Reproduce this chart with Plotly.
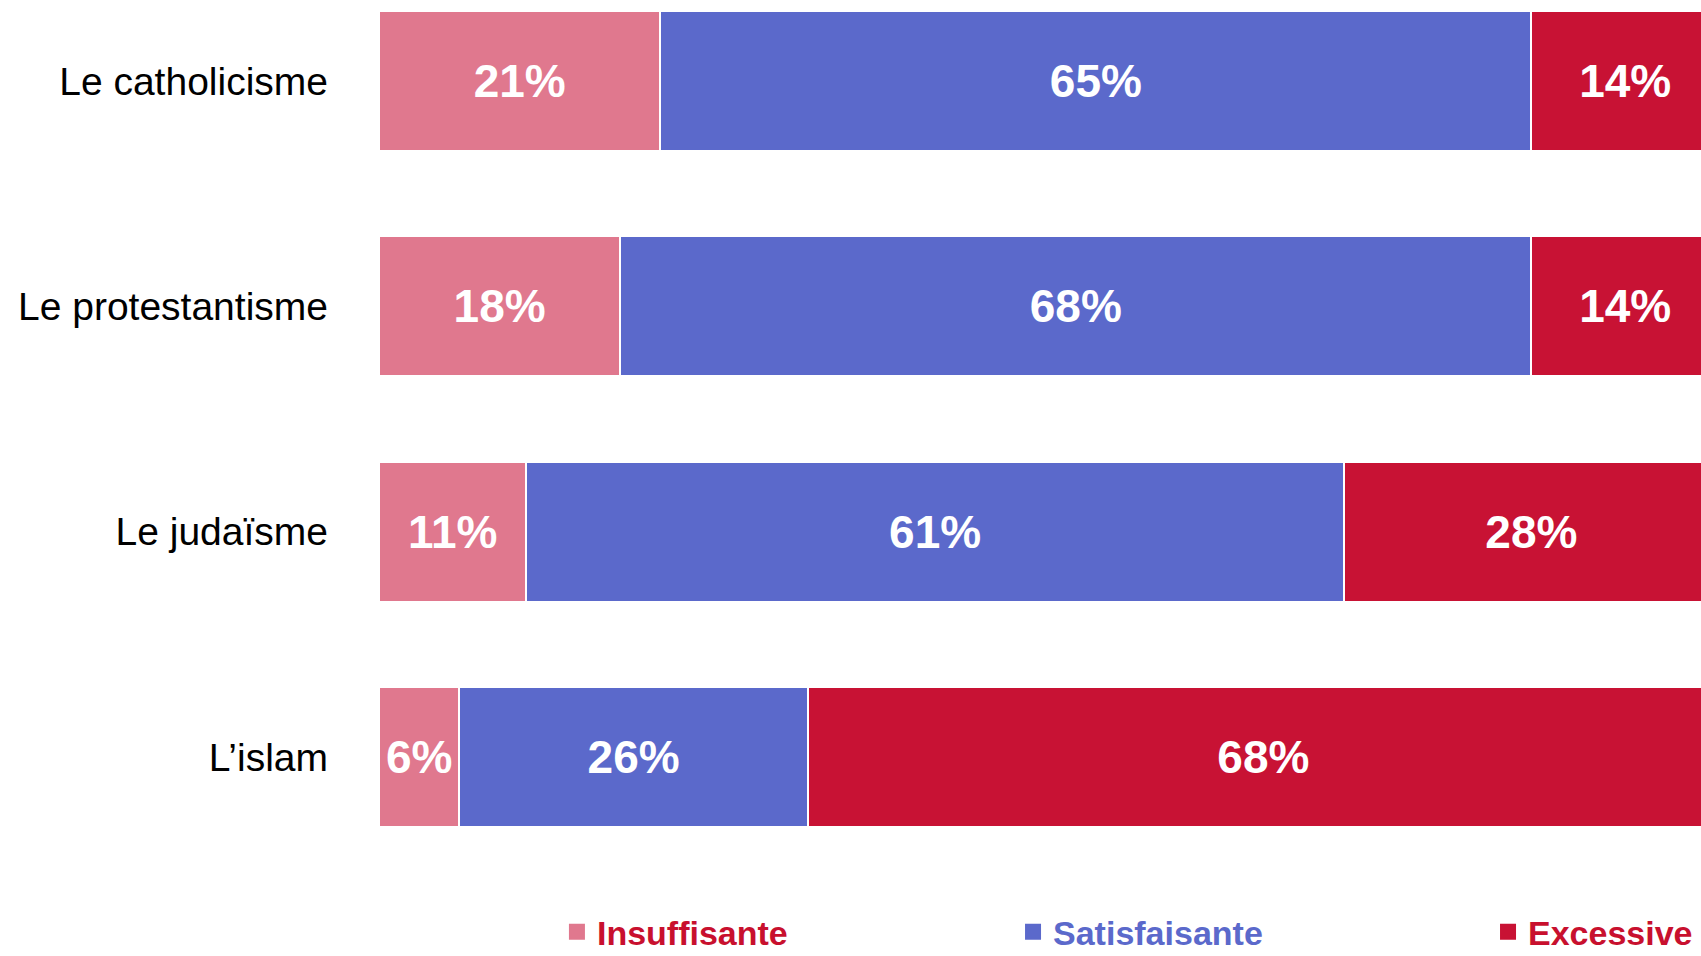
import plotly.graph_objects as go

categories = ["Le catholicisme", "Le protestantisme", "Le judaïsme", "L’islam"]
insuffisante = [21, 18, 11, 6]
satisfaisante = [65, 68, 61, 26]
excessive = [14, 14, 28, 68]

series = [
    ("Insuffisante", insuffisante, "#E0788E", "#C8102E", "legend"),
    ("Satisfaisante", satisfaisante, "#5B69CB", "#5B69CB", "legend2"),
    ("Excessive", excessive, "#C81234", "#C8102E", "legend3"),
]

fig = go.Figure()
for name, vals, color, tcolor, leg in series:
    fig.add_trace(go.Bar(
        y=categories, x=vals, orientation="h",
        name=name, showlegend=False,
        marker=dict(color=color, line=dict(color="white", width=2)),
        width=0.62,
        text=[f"{v}%" for v in vals],
        textposition="inside", insidetextanchor="middle",
        textfont=dict(family="Liberation Sans", size=46, color="white", weight="bold"),
    ))
    # legend entry (square marker, coloured label)
    fig.add_trace(go.Scatter(
        x=[None], y=[None], mode="markers",
        marker=dict(symbol="square", size=16, color=color),
        name=f"<b><span style='color:{tcolor}'>{name}</span></b>",
        showlegend=True, legend=leg, hoverinfo="skip",
    ))

leg_common = dict(orientation="h", yanchor="middle", xanchor="left", y=-0.084,
                  font=dict(family="Liberation Sans", size=34), bgcolor="rgba(0,0,0,0)")
fig.update_layout(
    barmode="stack",
    showlegend=True,
    width=1701, height=956,
    margin=dict(l=379, r=0, t=0, b=96, autoexpand=False),
    plot_bgcolor="white", paper_bgcolor="white",
    xaxis=dict(range=[0, 98.66], visible=False, fixedrange=True),
    yaxis=dict(range=[3.457, -0.359], showgrid=False, zeroline=False, showline=False,
               ticks="", ticklabelstandoff=50, type="category",
               tickfont=dict(family="Liberation Sans", size=39, color="black")),
    legend=dict(x=0.1346, **leg_common),
    legend2=dict(x=0.4796, **leg_common),
    legend3=dict(x=0.8389, **leg_common),
)

fig.write_html("out.html", config={"displayModeBar": False},
               post_script="document.body.style.margin='0';document.body.style.overflow='hidden';")
